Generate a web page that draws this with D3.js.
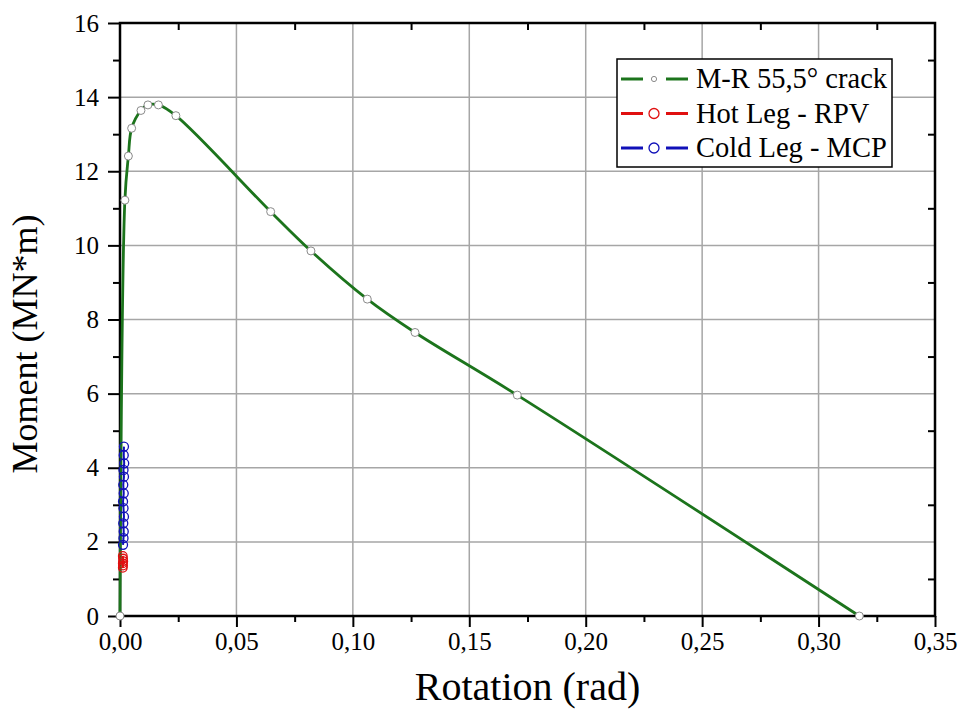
<!DOCTYPE html>
<html>
<head>
<meta charset="utf-8">
<script src="https://cdn.jsdelivr.net/npm/d3@7"></script>
<style>
  body { margin: 0; background: #fff; }
  svg text { font-family: "Liberation Serif", "Times New Roman", serif !important; fill: #000; }
</style>
</head>
<body>
<svg id="canvas"></svg>
<script>
// series
let crackRot = [0, 0.0021, 0.0036, 0.005, 0.009, 0.012, 0.0165, 0.024, 0.0647, 0.082, 0.1062, 0.1267, 0.1706, 0.3175]
let crackMom = [0, 11.22, 12.41, 13.16, 13.64, 13.79, 13.79, 13.5, 10.91, 9.85, 8.55, 7.65, 5.96, 0]

let hotRot = [0.0012, 0.0013, 0.0012, 0.0014, 0.0013, 0.0012]
let hotMom = [1.30, 1.36, 1.42, 1.48, 1.55, 1.62]

let coldRot = [0.0013, 0.0015, 0.0016, 0.0014, 0.0017, 0.0015, 0.0013, 0.0016, 0.0014, 0.0017, 0.0015, 0.0018, 0.0016, 0.0017]
let coldMom = [1.92, 2.10, 2.28, 2.50, 2.68, 2.91, 3.09, 3.31, 3.54, 3.76, 3.94, 4.12, 4.34, 4.57]

let xTicks = [0, 0.05, 0.10, 0.15, 0.20, 0.25, 0.30, 0.35]
let xMinor = [0.025, 0.075, 0.125, 0.175, 0.225, 0.275, 0.325]
let yTicks = [0, 2, 4, 6, 8, 10, 12, 14, 16]
let yMinor = [1, 3, 5, 7, 9, 11, 13, 15]

let seriesNames = ['M-R 55,5° crack', 'Hot Leg - RPV', 'Cold Leg - MCP']
let seriesColors = ['#1c741c', '#e01010', '#1010b8']

let width = 959
let height = 713
let plotL = 120, plotR = 935, plotT = 23, plotB = 616

let canvas = d3.select('#canvas')
canvas.attr('width', width)
      .attr('height', height)

let xScale = d3.scaleLinear().domain([0, 0.35]).range([plotL, plotR])
let yScale = d3.scaleLinear().domain([0, 16]).range([plotB, plotT])

let fmtX = (d) => d3.format('.2f')(d).replace('.', ',')

/*grid*/
canvas.append('g')
  .selectAll('line')
  .data(xTicks.slice(1, -1))
  .enter()
  .append('line')
  .attr('x1', (d) => xScale(d)).attr('x2', (d) => xScale(d))
  .attr('y1', plotT).attr('y2', plotB)
  .attr('stroke', '#a6a6a6').attr('stroke-width', 1.5)

canvas.append('g')
  .selectAll('line')
  .data(yTicks.slice(1, -1))
  .enter()
  .append('line')
  .attr('y1', (d) => yScale(d)).attr('y2', (d) => yScale(d))
  .attr('x1', plotL).attr('x2', plotR)
  .attr('stroke', '#a6a6a6').attr('stroke-width', 1.5)

/*axes*/
function styleAxis(g) {
  g.attr('font-family', null)
  g.select('.domain').remove()
  g.selectAll('.tick line').attr('stroke', '#000').attr('stroke-width', 2)
  g.selectAll('.tick text').style('font-size', '25px').attr('fill', '#000')
}

canvas.append('g')
  .attr('transform', `translate(0,${plotB})`)
  .call(d3.axisBottom(xScale).tickValues(xTicks).tickSize(11).tickPadding(5).tickFormat(fmtX))
  .call(styleAxis)

canvas.append('g')
  .attr('transform', `translate(0,${plotB})`)
  .call(d3.axisBottom(xScale).tickValues(xMinor).tickSize(6).tickFormat(''))
  .call(styleAxis)

canvas.append('g')
  .attr('transform', `translate(${plotL},0)`)
  .call(d3.axisLeft(yScale).tickValues(yTicks).tickSize(12).tickPadding(9).tickFormat(d3.format('d')))
  .call(styleAxis)

canvas.append('g')
  .attr('transform', `translate(${plotL},0)`)
  .call(d3.axisLeft(yScale).tickValues(yMinor).tickSize(7).tickFormat(''))
  .call(styleAxis)

// inner minor ticks on top and right
canvas.append('g')
  .attr('transform', `translate(0,${plotT})`)
  .call(d3.axisBottom(xScale).tickValues(xMinor).tickSize(7).tickFormat(''))
  .call(styleAxis)

canvas.append('g')
  .attr('transform', `translate(${plotR},0)`)
  .call(d3.axisLeft(yScale).tickValues(yMinor).tickSize(7).tickFormat(''))
  .call(styleAxis)

/*frame*/
canvas.append('rect')
  .attr('x', plotL).attr('y', plotT)
  .attr('width', plotR - plotL).attr('height', plotB - plotT)
  .attr('fill', 'none').attr('stroke', '#000').attr('stroke-width', 2.5)

/*titles*/
canvas.append('text')
  .attr('x', (plotL + plotR) / 2).attr('y', 700)
  .attr('text-anchor', 'middle')
  .style('font-size', '40px')
  .text('Rotation (rad)')

canvas.append('text')
  .attr('transform', 'translate(37,344) rotate(-90)')
  .attr('text-anchor', 'middle')
  .style('font-size', '36px')
  .text('Moment (MN*m)')

/*series*/
let smooth = d3.line()
  .x((d) => xScale(d[0]))
  .y((d) => yScale(d[1]))
  .curve(d3.curveCatmullRom.alpha(0.5))

let straight = d3.line()
  .x((d) => xScale(d[0]))
  .y((d) => yScale(d[1]))

let crack = d3.zip(crackRot, crackMom)
let hot = d3.zip(hotRot, hotMom)
let cold = d3.zip(coldRot, coldMom)

canvas.append('path')
  .datum(crack)
  .attr('d', smooth)
  .attr('fill', 'none')
  .attr('stroke', seriesColors[0])
  .attr('stroke-width', 2.8)

canvas.append('g')
  .selectAll('circle')
  .data(crack)
  .enter()
  .append('circle')
  .attr('cx', (d) => xScale(d[0]))
  .attr('cy', (d) => yScale(d[1]))
  .attr('r', 4)
  .attr('fill', '#fff')
  .attr('stroke', '#8a8a8a')
  .attr('stroke-width', 1)

canvas.append('path')
  .datum(hot)
  .attr('d', straight)
  .attr('fill', 'none')
  .attr('stroke', seriesColors[1])
  .attr('stroke-width', 2)

canvas.append('g')
  .selectAll('circle')
  .data(hot)
  .enter()
  .append('circle')
  .attr('cx', (d) => xScale(d[0]))
  .attr('cy', (d) => yScale(d[1]))
  .attr('r', 4.3)
  .attr('fill', 'none')
  .attr('stroke', seriesColors[1])
  .attr('stroke-width', 1.3)

canvas.append('path')
  .datum(cold)
  .attr('d', straight)
  .attr('fill', 'none')
  .attr('stroke', seriesColors[2])
  .attr('stroke-width', 2)

canvas.append('g')
  .selectAll('circle')
  .data(cold)
  .enter()
  .append('circle')
  .attr('cx', (d) => xScale(d[0]))
  .attr('cy', (d) => yScale(d[1]))
  .attr('r', 4.5)
  .attr('fill', 'none')
  .attr('stroke', seriesColors[2])
  .attr('stroke-width', 1.3)

/*legend*/
let legend = canvas.append('g')
legend.append('rect')
  .attr('x', 617).attr('y', 59)
  .attr('width', 275).attr('height', 108)
  .attr('fill', '#fff')
  .attr('stroke', '#000')
  .attr('stroke-width', 1.5)

seriesNames.forEach((name, i) => {
  let cy = 79 + i * 34.5
  let g = legend.append('g')
  g.append('line').attr('x1', 621).attr('x2', 643).attr('y1', cy).attr('y2', cy)
    .attr('stroke', seriesColors[i]).attr('stroke-width', 3)
  g.append('line').attr('x1', 666).attr('x2', 688).attr('y1', cy).attr('y2', cy)
    .attr('stroke', seriesColors[i]).attr('stroke-width', 3)
  g.append('circle').attr('cx', 654).attr('cy', cy)
    .attr('r', i === 0 ? 2.6 : 5)
    .attr('fill', '#fff')
    .attr('stroke', i === 0 ? '#8a8a8a' : seriesColors[i])
    .attr('stroke-width', i === 0 ? 1 : 1.3)
  g.append('text')
    .attr('x', 696).attr('y', cy + 9)
    .style('font-size', '28.5px')
    .text(name)
})
</script>
</body>
</html>
